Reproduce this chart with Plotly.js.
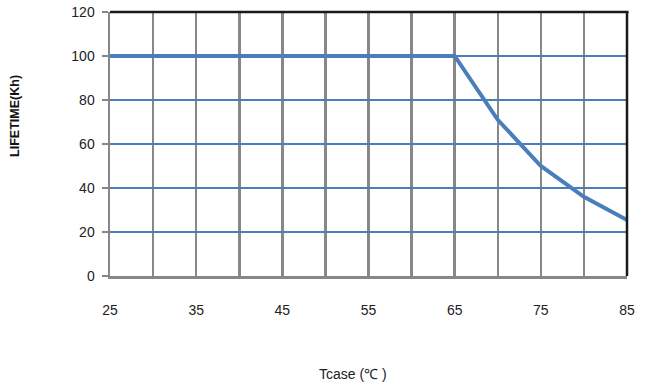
<!DOCTYPE html>
<html><head><meta charset="utf-8">
<script src="https://cdn.plot.ly/plotly-3.0.1.min.js"></script>
<style>html,body{margin:0;padding:0;background:#fff}#chart{width:649px;height:388px}</style>
</head><body><div id="chart"></div>
<script>
const tcase = [25, 30, 35, 40, 45, 50, 55, 60, 65, 70, 75, 80, 85];
const lifetime = [100, 100, 100, 100, 100, 100, 100, 100, 100, 71, 50, 36, 25.5];
const xTickLabels = ['25', '35', '45', '55', '65', '75', '85'];
const yTickLabels = ['0', '20', '40', '60', '80', '100', '120'];
const xTitle = 'Tcase (℃ )';
const yTitle = 'LIFETIME(Kh)';

const blue = '#4a7ebb', gray = '#878787';
const tickFont = {family: 'Liberation Sans, Arial, sans-serif', size: 14, color: '#222'};
const xGrid = tcase.slice();
const xText = xGrid.map(v => xTickLabels.includes(String(v)) ? String(v) : '');

const data = [{
  x: tcase, y: lifetime, type: 'scatter', mode: 'lines',
  line: {color: blue, width: 4}, hoverinfo: 'skip'
}];

const layout = {
  width: 649, height: 388,
  margin: {l: 110, r: 22, t: 12, b: 112},
  paper_bgcolor: '#fff', plot_bgcolor: '#fff',
  showlegend: false,
  xaxis: {
    range: [25, 85], tickvals: xGrid, ticktext: xText,
    showgrid: true, gridcolor: gray, gridwidth: 2.5,
    showline: true, linecolor: gray, linewidth: 2.5,
    zeroline: false, ticks: '', tickfont: tickFont, ticklabelstandoff: 20,
    fixedrange: true
  },
  yaxis: {
    range: [0, 120], tickvals: yTickLabels.map(Number), ticktext: yTickLabels,
    showgrid: true, gridcolor: blue, gridwidth: 2,
    showline: true, linecolor: gray, linewidth: 2.5,
    zeroline: false, ticks: 'outside', ticklen: 6, tickcolor: gray, tickwidth: 2,
    tickfont: tickFont, ticklabelstandoff: 4,
    fixedrange: true
  },
  shapes: [
    {type: 'line', xref: 'paper', yref: 'paper', x0: 0, x1: 1.003, y0: 1, y1: 1, line: {color: '#1a1a1a', width: 2.5}, layer: 'above'},
    {type: 'line', xref: 'paper', yref: 'paper', x0: 1, x1: 1, y0: 0, y1: 1, line: {color: '#1a1a1a', width: 2.5}, layer: 'above'}
  ],
  annotations: [
    {text: yTitle, xref: 'paper', yref: 'paper', x: -0.184, y: 0.606, textangle: -90, showarrow: false,
     xanchor: 'center', yanchor: 'middle', font: {family: 'Liberation Sans, Arial, sans-serif', size: 12.5, color: '#111', weight: 'bold'}},
    {text: xTitle, xref: 'paper', yref: 'paper', x: 0.47, y: -0.37, showarrow: false,
     xanchor: 'center', yanchor: 'middle', font: {family: 'Liberation Sans, Arial, sans-serif', size: 14, color: '#222'}}
  ]
};

Plotly.newPlot('chart', data, layout, {displayModeBar: false, staticPlot: true});
</script></body></html>
